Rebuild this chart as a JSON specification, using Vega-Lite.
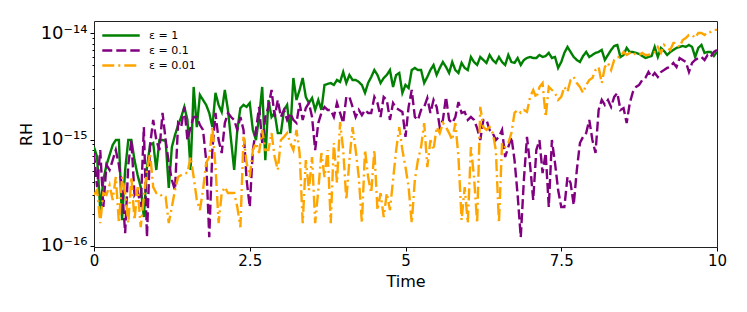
{
  "$schema": "https://vega.github.io/schema/vega-lite/v6.json",
  "autosize": "none",
  "width": 623,
  "height": 226,
  "padding": {"left": 94, "top": 21, "right": 30, "bottom": 65},
  "background": "white",
  "config": {
    "font": "DejaVu Sans",
    "view": {"stroke": "#222", "strokeWidth": 1},
    "axis": {"labelColor": "#000", "titleColor": "#000", "tickColor": "#000", "domain": false, "grid": false, "labelFont": "DejaVu Sans", "titleFont": "DejaVu Sans", "titleFontWeight": "normal"}
  },
  "data": {"values": [
    {"t":0,"a":8.49e-16,"b":7.46e-16,"c":3.0e-16},
    {"t":0.05,"a":6.84e-16,"b":3.56e-16,"c":3.34e-16},
    {"t":0.1,"a":2.16e-16,"b":7.96e-16,"c":1.63e-16},
    {"t":0.15,"a":4.15e-16,"b":2.31e-16,"c":3.13e-16},
    {"t":0.2,"a":5.75e-16,"b":5.75e-16,"c":3.0e-16},
    {"t":0.25,"a":7.14e-16,"b":5.16e-16,"c":3.72e-16},
    {"t":0.3,"a":8.87e-16,"b":6.4e-16,"c":2.69e-16},
    {"t":0.35,"a":9.89e-16,"b":7.96e-16,"c":4.43e-16},
    {"t":0.4,"a":9.89e-16,"b":5.75e-16,"c":1.63e-16},
    {"t":0.45,"a":1.74e-16,"b":3.56e-16,"c":4.43e-16},
    {"t":0.5,"a":5.16e-16,"b":1.31e-16,"c":3.13e-16},
    {"t":0.55,"a":9.89e-16,"b":5.75e-16,"c":1.63e-16},
    {"t":0.6,"a":9.89e-16,"b":9.89e-16,"c":4.43e-16},
    {"t":0.65,"a":6.4e-16,"b":3.0e-16,"c":1.74e-16},
    {"t":0.7,"a":4.62e-16,"b":3.34e-16,"c":3.56e-16},
    {"t":0.75,"a":3.56e-16,"b":2.31e-16,"c":1.49e-16},
    {"t":0.8,"a":1.86e-16,"b":1.31e-15,"c":2.87e-16},
    {"t":0.85,"a":5.5e-16,"b":1.2e-16,"c":5.16e-16},
    {"t":0.9,"a":8.87e-16,"b":8.87e-16,"c":7.46e-16},
    {"t":0.95,"a":9.27e-16,"b":1.53e-15,"c":3.56e-16},
    {"t":1.0,"a":5.16e-16,"b":9.89e-16,"c":3.13e-16},
    {"t":1.05,"a":9.89e-16,"b":7.96e-16,"c":3.13e-16},
    {"t":1.1,"a":9.89e-16,"b":1.78e-15,"c":2.87e-16},
    {"t":1.15,"a":9.7e-16,"b":9.89e-16,"c":2.87e-16},
    {"t":1.2,"a":3.49e-16,"b":6.0e-16,"c":1.63e-16},
    {"t":1.25,"a":8.49e-16,"b":4.15e-16,"c":2.31e-16},
    {"t":1.3,"a":1.1e-15,"b":3.34e-16,"c":3.34e-16},
    {"t":1.35,"a":1.37e-15,"b":1.43e-15,"c":4.43e-16},
    {"t":1.4,"a":1.63e-15,"b":1.31e-15,"c":4.62e-16},
    {"t":1.45,"a":2.03e-15,"b":2.03e-15,"c":4.83e-16},
    {"t":1.5,"a":1.53e-15,"b":9.89e-16,"c":4.83e-16},
    {"t":1.55,"a":5.16e-16,"b":1.31e-15,"c":6.84e-16},
    {"t":1.6,"a":3.13e-15,"b":1.63e-15,"c":4.43e-16},
    {"t":1.65,"a":1.31e-15,"b":1.63e-15,"c":2.69e-16},
    {"t":1.7,"a":2.63e-15,"b":1.37e-15,"c":2.16e-16},
    {"t":1.75,"a":2.36e-15,"b":1.23e-15,"c":3.34e-16},
    {"t":1.8,"a":2.12e-15,"b":6.4e-16,"c":6.0e-16},
    {"t":1.85,"a":1.78e-15,"b":1.2e-16,"c":6.84e-16},
    {"t":1.9,"a":1.31e-15,"b":7.96e-16,"c":1.31e-15},
    {"t":1.95,"a":2.75e-15,"b":1.78e-15,"c":5.5e-16},
    {"t":2.0,"a":2.12e-15,"b":9.89e-16,"c":1.63e-16},
    {"t":2.05,"a":1.82e-15,"b":7.46e-16,"c":3.13e-16},
    {"t":2.1,"a":2.93e-15,"b":1.43e-15,"c":3.56e-16},
    {"t":2.15,"a":1.9e-15,"b":1.78e-15,"c":3.13e-16},
    {"t":2.2,"a":9.89e-16,"b":1.63e-15,"c":3.13e-16},
    {"t":2.25,"a":5.16e-16,"b":1.53e-15,"c":3.13e-16},
    {"t":2.3,"a":1.23e-15,"b":1.23e-15,"c":2.31e-16},
    {"t":2.35,"a":1.98e-15,"b":1.63e-15,"c":1.49e-16},
    {"t":2.4,"a":2.12e-15,"b":1.23e-15,"c":1.06e-15},
    {"t":2.45,"a":2.03e-15,"b":4.15e-16,"c":6.0e-16},
    {"t":2.5,"a":2.21e-15,"b":2.31e-16,"c":4.43e-16},
    {"t":2.55,"a":1.23e-15,"b":7.96e-16,"c":7.96e-16},
    {"t":2.6,"a":9.89e-16,"b":1.23e-15,"c":9.27e-16},
    {"t":2.65,"a":1.63e-15,"b":2.03e-15,"c":7.46e-16},
    {"t":2.7,"a":3.13e-15,"b":9.27e-16,"c":1.23e-15},
    {"t":2.75,"a":6.4e-16,"b":1.63e-15,"c":7.96e-16},
    {"t":2.8,"a":2.36e-15,"b":2.03e-15,"c":7.96e-16},
    {"t":2.85,"a":1.63e-15,"b":2.93e-15,"c":1.15e-15},
    {"t":2.9,"a":1.78e-15,"b":1.63e-15,"c":6.84e-16},
    {"t":2.95,"a":1.15e-15,"b":2.36e-15,"c":5.16e-16},
    {"t":3.0,"a":1.15e-15,"b":1.63e-15,"c":9.89e-16},
    {"t":3.05,"a":1.9e-15,"b":1.9e-15,"c":1.06e-15},
    {"t":3.1,"a":2.12e-15,"b":1.53e-15,"c":1.15e-15},
    {"t":3.15,"a":1.15e-15,"b":1.78e-15,"c":9.27e-16},
    {"t":3.2,"a":3.8e-15,"b":1.53e-15,"c":7.96e-16},
    {"t":3.25,"a":2.36e-15,"b":1.43e-15,"c":1.23e-15},
    {"t":3.3,"a":2.93e-15,"b":2.21e-15,"c":7.46e-16},
    {"t":3.35,"a":3.8e-15,"b":1.53e-15,"c":1.63e-16},
    {"t":3.4,"a":2.52e-15,"b":1.98e-15,"c":6.4e-16},
    {"t":3.45,"a":2.21e-15,"b":2.21e-15,"c":3.34e-16},
    {"t":3.5,"a":2.46e-15,"b":1.63e-15,"c":6.84e-16},
    {"t":3.55,"a":1.9e-15,"b":7.96e-16,"c":1.63e-16},
    {"t":3.6,"a":2.36e-15,"b":1.43e-15,"c":3.34e-16},
    {"t":3.65,"a":1.9e-15,"b":1.78e-15,"c":7.46e-16},
    {"t":3.7,"a":3.27e-15,"b":2.03e-15,"c":4.43e-16},
    {"t":3.75,"a":3.34e-15,"b":1.9e-15,"c":7.96e-16},
    {"t":3.8,"a":3.41e-15,"b":1.9e-15,"c":1.63e-16},
    {"t":3.85,"a":3.27e-15,"b":1.63e-15,"c":9.27e-16},
    {"t":3.9,"a":3.64e-15,"b":2.21e-15,"c":3.89e-16},
    {"t":3.95,"a":3.49e-15,"b":1.78e-15,"c":1.46e-15},
    {"t":4.0,"a":4.33e-15,"b":1.43e-15,"c":7.96e-16},
    {"t":4.05,"a":3.41e-15,"b":2.52e-15,"c":2.69e-16},
    {"t":4.1,"a":4.06e-15,"b":2.52e-15,"c":6.4e-16},
    {"t":4.15,"a":3.64e-15,"b":2.03e-15,"c":1.31e-15},
    {"t":4.2,"a":3.64e-15,"b":1.63e-15,"c":7.96e-16},
    {"t":4.25,"a":3.49e-15,"b":1.9e-15,"c":4.43e-16},
    {"t":4.3,"a":3.27e-15,"b":1.7e-15,"c":1.63e-16},
    {"t":4.35,"a":2.75e-15,"b":1.9e-15,"c":7.96e-16},
    {"t":4.4,"a":3.41e-15,"b":1.78e-15,"c":4.43e-16},
    {"t":4.45,"a":3.89e-15,"b":1.78e-15,"c":3.13e-16},
    {"t":4.5,"a":4.52e-15,"b":2.52e-15,"c":7.96e-16},
    {"t":4.55,"a":4.06e-15,"b":2.21e-15,"c":2.16e-16},
    {"t":4.6,"a":3.41e-15,"b":1.63e-15,"c":3.13e-16},
    {"t":4.65,"a":3.8e-15,"b":2.52e-15,"c":1.86e-16},
    {"t":4.7,"a":4.06e-15,"b":2.36e-15,"c":3.13e-16},
    {"t":4.75,"a":4.52e-15,"b":1.53e-15,"c":2.16e-16},
    {"t":4.8,"a":3.13e-15,"b":2.21e-15,"c":4.15e-16},
    {"t":4.85,"a":4.06e-15,"b":1.98e-15,"c":7.96e-16},
    {"t":4.9,"a":4.24e-15,"b":1.9e-15,"c":1.31e-15},
    {"t":4.95,"a":2.75e-15,"b":1.82e-15,"c":7.96e-16},
    {"t":5.0,"a":3.27e-15,"b":1.06e-15,"c":5.5e-16},
    {"t":5.05,"a":3.06e-15,"b":2.03e-15,"c":3.56e-16},
    {"t":5.1,"a":4.52e-15,"b":2.93e-15,"c":1.63e-16},
    {"t":5.15,"a":4.73e-15,"b":1.63e-15,"c":4.15e-16},
    {"t":5.2,"a":4.52e-15,"b":1.53e-15,"c":6.4e-16},
    {"t":5.25,"a":4.52e-15,"b":1.9e-15,"c":8.49e-16},
    {"t":5.3,"a":3.41e-15,"b":2.03e-15,"c":1.43e-15},
    {"t":5.35,"a":3.89e-15,"b":2.46e-15,"c":5.5e-16},
    {"t":5.4,"a":4.52e-15,"b":1.78e-15,"c":9.89e-16},
    {"t":5.45,"a":5.04e-15,"b":2.36e-15,"c":7.96e-16},
    {"t":5.5,"a":4.06e-15,"b":2.03e-15,"c":1.31e-15},
    {"t":5.55,"a":4.73e-15,"b":1.31e-15,"c":1.15e-15},
    {"t":5.6,"a":5.38e-15,"b":1.53e-15,"c":1.43e-15},
    {"t":5.65,"a":4.83e-15,"b":2.52e-15,"c":1.31e-15},
    {"t":5.7,"a":4.24e-15,"b":1.53e-15,"c":1.15e-15},
    {"t":5.75,"a":5.38e-15,"b":1.43e-15,"c":9.89e-16},
    {"t":5.8,"a":4.52e-15,"b":1.63e-15,"c":1.43e-15},
    {"t":5.85,"a":4.24e-15,"b":2.26e-15,"c":6.84e-16},
    {"t":5.9,"a":5.27e-15,"b":1.78e-15,"c":1.74e-16},
    {"t":5.95,"a":4.73e-15,"b":1.82e-15,"c":3.56e-16},
    {"t":6.0,"a":4.52e-15,"b":1.53e-15,"c":1.63e-16},
    {"t":6.05,"a":6.0e-15,"b":1.63e-15,"c":8.49e-16},
    {"t":6.1,"a":5.38e-15,"b":1.53e-15,"c":4.43e-16},
    {"t":6.15,"a":5.04e-15,"b":1.28e-15,"c":1.63e-16},
    {"t":6.2,"a":6.0e-15,"b":9.89e-16,"c":2.03e-15},
    {"t":6.25,"a":5.62e-15,"b":1.53e-15,"c":1.31e-15},
    {"t":6.3,"a":5.27e-15,"b":1.53e-15,"c":1.23e-15},
    {"t":6.35,"a":6.27e-15,"b":1.23e-15,"c":1.31e-15},
    {"t":6.4,"a":5.62e-15,"b":1.15e-15,"c":1.15e-15},
    {"t":6.45,"a":5.27e-15,"b":9.89e-16,"c":7.96e-16},
    {"t":6.5,"a":6.0e-15,"b":1.06e-15,"c":1.63e-16},
    {"t":6.55,"a":5.38e-15,"b":1.23e-15,"c":9.27e-16},
    {"t":6.6,"a":5.04e-15,"b":6.84e-16,"c":8.49e-16},
    {"t":6.65,"a":6.27e-15,"b":8.49e-16,"c":9.27e-16},
    {"t":6.7,"a":5.38e-15,"b":1.06e-15,"c":1.15e-15},
    {"t":6.75,"a":5.27e-15,"b":6.4e-16,"c":1.78e-15},
    {"t":6.8,"a":5.87e-15,"b":3.0e-16,"c":1.9e-15},
    {"t":6.85,"a":5.04e-15,"b":1.2e-16,"c":1.78e-15},
    {"t":6.9,"a":5.62e-15,"b":4.15e-16,"c":1.9e-15},
    {"t":6.95,"a":5.87e-15,"b":1.06e-15,"c":1.82e-15},
    {"t":7.0,"a":6.0e-15,"b":5.75e-16,"c":2.52e-15},
    {"t":7.05,"a":5.87e-15,"b":2.69e-16,"c":2.93e-15},
    {"t":7.1,"a":5.87e-15,"b":7.96e-16,"c":2.46e-15},
    {"t":7.15,"a":6.27e-15,"b":9.89e-16,"c":3.13e-15},
    {"t":7.2,"a":6.0e-15,"b":4.83e-16,"c":3.41e-15},
    {"t":7.25,"a":6.13e-15,"b":7.46e-16,"c":1.63e-15},
    {"t":7.3,"a":6.55e-15,"b":2.31e-16,"c":3.13e-15},
    {"t":7.35,"a":5.87e-15,"b":9.89e-16,"c":2.93e-15},
    {"t":7.4,"a":6.0e-15,"b":6.0e-16,"c":2.75e-15},
    {"t":7.45,"a":4.73e-15,"b":3.34e-16,"c":2.36e-15},
    {"t":7.5,"a":5.38e-15,"b":2.31e-16,"c":2.52e-15},
    {"t":7.55,"a":6.55e-15,"b":2.31e-16,"c":3.13e-15},
    {"t":7.6,"a":7.46e-15,"b":4.43e-16,"c":2.81e-15},
    {"t":7.65,"a":6.69e-15,"b":3.89e-16,"c":3.64e-15},
    {"t":7.7,"a":6.0e-15,"b":2.41e-16,"c":3.89e-15},
    {"t":7.75,"a":5.62e-15,"b":5.16e-16,"c":3.41e-15},
    {"t":7.8,"a":5.38e-15,"b":9.27e-16,"c":3.13e-15},
    {"t":7.85,"a":6.13e-15,"b":1.06e-15,"c":2.75e-15},
    {"t":7.9,"a":6.69e-15,"b":1.15e-15,"c":3.27e-15},
    {"t":7.95,"a":6.0e-15,"b":1.53e-15,"c":3.64e-15},
    {"t":8.0,"a":6.27e-15,"b":9.89e-16,"c":3.8e-15},
    {"t":8.05,"a":6.55e-15,"b":7.46e-16,"c":4.52e-15},
    {"t":8.1,"a":6.69e-15,"b":1.9e-15,"c":4.83e-15},
    {"t":8.15,"a":6.99e-15,"b":2.36e-15,"c":3.41e-15},
    {"t":8.2,"a":5.62e-15,"b":2.12e-15,"c":4.83e-15},
    {"t":8.25,"a":6.27e-15,"b":2.36e-15,"c":5.27e-15},
    {"t":8.3,"a":6.99e-15,"b":2.03e-15,"c":4.52e-15},
    {"t":8.35,"a":7.62e-15,"b":2.52e-15,"c":5.62e-15},
    {"t":8.4,"a":7.79e-15,"b":2.75e-15,"c":6.0e-15},
    {"t":8.45,"a":6.0e-15,"b":1.9e-15,"c":6.0e-15},
    {"t":8.5,"a":6.27e-15,"b":1.98e-15,"c":6.69e-15},
    {"t":8.55,"a":7.3e-15,"b":1.43e-15,"c":6.27e-15},
    {"t":8.6,"a":6.69e-15,"b":2.21e-15,"c":6.55e-15},
    {"t":8.65,"a":6.69e-15,"b":2.81e-15,"c":6.69e-15},
    {"t":8.7,"a":6.55e-15,"b":3.13e-15,"c":6.27e-15},
    {"t":8.75,"a":6.41e-15,"b":3.27e-15,"c":6.27e-15},
    {"t":8.8,"a":6.13e-15,"b":3.64e-15,"c":6.55e-15},
    {"t":8.85,"a":5.87e-15,"b":3.8e-15,"c":6.27e-15},
    {"t":8.9,"a":6.0e-15,"b":4.33e-15,"c":6.27e-15},
    {"t":8.95,"a":6.13e-15,"b":3.89e-15,"c":6.55e-15},
    {"t":9.0,"a":7.46e-15,"b":4.24e-15,"c":6.69e-15},
    {"t":9.05,"a":6.0e-15,"b":3.89e-15,"c":7.46e-15},
    {"t":9.1,"a":7.3e-15,"b":4.33e-15,"c":6.55e-15},
    {"t":9.15,"a":6.84e-15,"b":4.52e-15,"c":7.79e-15},
    {"t":9.2,"a":6.27e-15,"b":4.73e-15,"c":7.3e-15},
    {"t":9.25,"a":6.69e-15,"b":4.83e-15,"c":6.99e-15},
    {"t":9.3,"a":6.99e-15,"b":5.27e-15,"c":8.14e-15},
    {"t":9.35,"a":7.3e-15,"b":4.83e-15,"c":8.14e-15},
    {"t":9.4,"a":7.46e-15,"b":5.87e-15,"c":7.46e-15},
    {"t":9.45,"a":7.62e-15,"b":5.62e-15,"c":8.68e-15},
    {"t":9.5,"a":7.46e-15,"b":5.38e-15,"c":9.07e-15},
    {"t":9.55,"a":7.79e-15,"b":4.33e-15,"c":9.68e-15},
    {"t":9.6,"a":7.46e-15,"b":5.27e-15,"c":9.68e-15},
    {"t":9.65,"a":6.0e-15,"b":5.62e-15,"c":9.07e-15},
    {"t":9.7,"a":7.3e-15,"b":5.87e-15,"c":1.01e-14},
    {"t":9.75,"a":7.79e-15,"b":6.0e-15,"c":1.01e-14},
    {"t":9.8,"a":6.55e-15,"b":5.62e-15,"c":9.68e-15},
    {"t":9.85,"a":6.69e-15,"b":6.27e-15,"c":1.033e-14},
    {"t":9.9,"a":6.69e-15,"b":6.0e-15,"c":1.033e-14},
    {"t":9.95,"a":6.13e-15,"b":6.69e-15,"c":1.08e-14},
    {"t":10.0,"a":6.69e-15,"b":6.99e-15,"c":1.08e-14}
  ]},
  "transform": [{"fold": ["a", "b", "c"], "as": ["series", "RH"]}],
  "mark": {"type": "line", "strokeWidth": 2.4, "clip": true},
  "encoding": {
    "x": {
      "field": "t", "type": "quantitative",
      "scale": {"domain": [0, 10], "nice": false, "zero": false},
      "axis": {"title": "Time", "values": [0, 2.5, 5, 7.5, 10], "format": ".1~f", "labelFontSize": 15, "titleFontSize": 16, "tickSize": 4, "labelPadding": 2, "titlePadding": 5, "labelFlush": false}
    },
    "y": {
      "field": "RH", "type": "quantitative",
      "scale": {"type": "log", "domain": [9.7e-17, 1.31e-14], "nice": false},
      "axis": {
        "title": "RH",
        "values": [1e-16, 2e-16, 3e-16, 4e-16, 5e-16, 6e-16, 7e-16, 8e-16, 9e-16, 1e-15, 2e-15, 3e-15, 4e-15, 5e-15, 6e-15, 7e-15, 8e-15, 9e-15, 1e-14],
        "labelExpr": "datum.value == 1e-14 ? '10⁻¹⁴' : datum.value == 1e-15 ? '10⁻¹⁵' : datum.value == 1e-16 ? '10⁻¹⁶' : ''",
        "labelOverlap": false,
        "labelFontSize": 18,
        "titleFontSize": 16,
        "labelPadding": 3,
        "titlePadding": 6,
        "tickSize": {"condition": {"test": "datum.value == 1e-14 || datum.value == 1e-15 || datum.value == 1e-16", "value": 4}, "value": 2}
      }
    },
    "color": {
      "field": "series", "type": "nominal",
      "scale": {"domain": ["a", "b", "c"], "range": ["green", "purple", "orange"]},
      "legend": {
        "title": null, "orient": "top-left", "offset": 7, "padding": 0,
        "symbolType": "stroke", "symbolSize": 1400, "symbolStrokeWidth": 2.4,
        "labelFontSize": 11, "labelColor": "#000", "labelOffset": 8, "rowPadding": 0, "clipHeight": 15,
        "labelExpr": "datum.label == 'a' ? 'ε = 1' : datum.label == 'b' ? 'ε = 0.1' : 'ε = 0.01'"
      }
    },
    "strokeDash": {
      "field": "series", "type": "nominal",
      "scale": {"domain": ["a", "b", "c"], "range": [[1, 0], [10, 4], [12, 4, 2, 4]]},
      "legend": {
        "title": null, "orient": "top-left", "offset": 7, "padding": 0,
        "symbolType": "stroke", "symbolSize": 1400, "symbolStrokeWidth": 2.4,
        "labelFontSize": 11, "labelColor": "#000", "labelOffset": 8, "rowPadding": 0, "clipHeight": 15,
        "labelExpr": "datum.label == 'a' ? 'ε = 1' : datum.label == 'b' ? 'ε = 0.1' : 'ε = 0.01'"
      }
    }
  }
}
